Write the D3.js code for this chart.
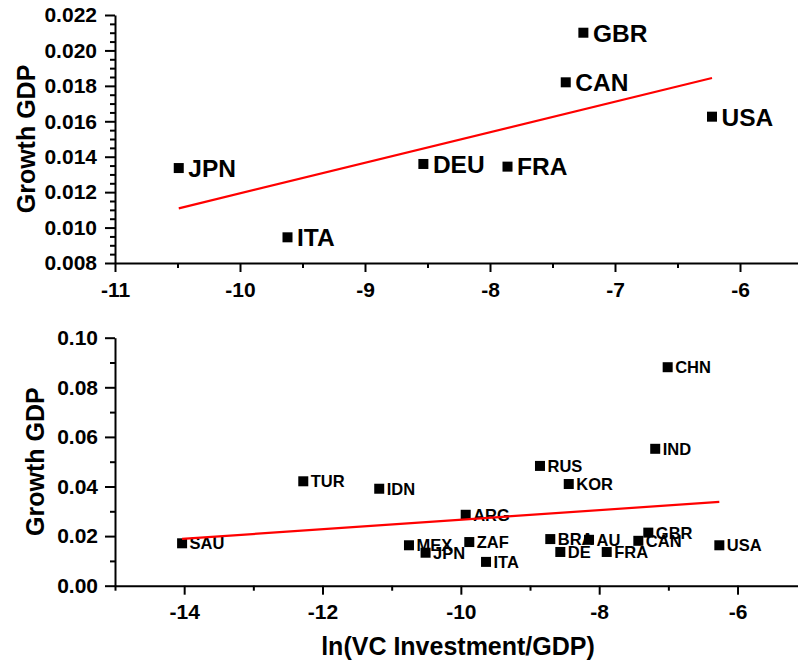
<!DOCTYPE html>
<html>
<head>
<meta charset="utf-8">
<script src="https://cdn.jsdelivr.net/npm/d3@7"></script>
<style>
  html, body { margin: 0; padding: 0; background: #fff; }
  svg { display: block; }
  text { font-family: "Liberation Sans", Arial, sans-serif; font-weight: bold; fill: #000; }
</style>
</head>
<body>
<svg id="chart" width="798" height="665"></svg>
<script>
// G7 economies: ln(VC investment / GDP) vs GDP growth
const g7Countries = ["JPN", "ITA", "DEU", "FRA", "CAN", "GBR", "USA"];
const g7LnVC      = [-10.49, -9.62, -8.533, -7.86, -7.394, -7.253, -6.224];
const g7Growth    = [0.01336, 0.00945, 0.01359, 0.01344, 0.0182, 0.0210, 0.01626];

// G20 economies (labels as printed)
const g20Countries = ["SAU", "TUR", "IDN", "MEX", "JPN", "ARG", "ZAF", "ITA", "RUS", "BRA",
                      "AU", "DE", "KOR", "FRA", "CAN", "GBR", "IND", "CHN", "USA"];
const g20LnVC      = [-14.03, -12.278, -11.18, -10.75, -10.51, -9.93, -9.878, -9.636, -8.856, -8.707,
                      -8.147, -8.562, -8.44, -7.891, -7.434, -7.29, -7.19, -7.01, -6.263];
const g20Growth    = [0.0171, 0.0421, 0.0391, 0.0163, 0.0133, 0.0286, 0.0176, 0.0096, 0.0483, 0.0188,
                      0.0185, 0.0136, 0.0410, 0.0136, 0.0181, 0.0214, 0.0552, 0.0881, 0.0163];

// Axis ticks
const topXTicks = [-11, -10, -9, -8, -7, -6];
const topYTicks = [0.008, 0.010, 0.012, 0.014, 0.016, 0.018, 0.020, 0.022];
const botXTicks = [-14, -12, -10, -8, -6];
const botYTicks = [0.00, 0.02, 0.04, 0.06, 0.08, 0.10];

const svg = d3.select("#chart");
const fmtX = d => (d < 0 ? "-" : "") + Math.abs(d);

// Ordinary least squares fit
function ols(xs, ys) {
  const n = xs.length;
  const mx = d3.mean(xs), my = d3.mean(ys);
  let sxy = 0, sxx = 0;
  for (let i = 0; i < n; i++) { sxy += (xs[i] - mx) * (ys[i] - my); sxx += (xs[i] - mx) ** 2; }
  const b = sxy / sxx;
  return { slope: b, intercept: my - b * mx };
}

function panel(cfg) {
  const g = svg.append("g");
  const x = d3.scaleLinear().domain(cfg.xDomain).range(cfg.xRange);
  const y = d3.scaleLinear().domain(cfg.yDomain).range(cfg.yRange);
  const y0 = cfg.yRange[0];
  const x0 = cfg.xRange[0];

  // minor ticks
  g.append("g").attr("transform", `translate(0,${y0})`)
    .call(d3.axisBottom(x).tickValues(cfg.xMinor).tickSize(5).tickFormat(""))
    .call(a => a.select(".domain").remove());
  g.append("g").attr("transform", `translate(${x0},0)`)
    .call(d3.axisLeft(y).tickValues(cfg.yMinor).tickSize(5).tickFormat(""))
    .call(a => a.select(".domain").remove());

  // major ticks + domain lines
  const xa = g.append("g").attr("transform", `translate(0,${y0})`)
    .call(d3.axisBottom(x).tickValues(cfg.xTicks).tickSize(9).tickSizeOuter(0)
      .tickPadding(cfg.xPad).tickFormat(fmtX));
  const ya = g.append("g").attr("transform", `translate(${x0},0)`)
    .call(d3.axisLeft(y).tickValues(cfg.yTicks).tickSize(10).tickSizeOuter(0)
      .tickPadding(cfg.yPad).tickFormat(d3.format(cfg.yFmt)));
  [xa, ya].forEach(a => {
    a.selectAll("text").attr("font-size", 21).attr("font-family", null);
    a.attr("font-family", null).attr("font-size", null);
  });
  g.selectAll(".domain, .tick line").attr("stroke", "#000").attr("stroke-width", 2);

  // y title
  g.append("text")
    .attr("transform", `translate(${cfg.yTitleX},${(cfg.yRange[0] + cfg.yRange[1]) / 2}) rotate(-90)`)
    .attr("text-anchor", "middle")
    .attr("font-size", 25)
    .text("Growth GDP");

  // points with labels, drawn in sequence
  const pts = cfg.names.map((n, i) => ({ name: n, vx: cfg.xs[i], vy: cfg.ys[i] }));
  const s = 10;
  const pg = g.selectAll("g.pt").data(pts).join("g").attr("class", "pt");
  pg.append("rect")
    .attr("x", d => x(d.vx) - s / 2).attr("y", d => y(d.vy) - s / 2)
    .attr("width", s).attr("height", s).attr("fill", "#000");
  pg.append("text")
    .attr("x", d => x(d.vx) + cfg.labelDx)
    .attr("y", d => y(d.vy) + cfg.labelSize * 0.36)
    .attr("font-size", cfg.labelSize)
    .text(d => d.name);

  // fitted line across the data range
  const fit = ols(cfg.xs, cfg.ys);
  const ex = d3.extent(cfg.xs);
  g.append("line")
    .attr("x1", x(ex[0])).attr("y1", y(fit.intercept + fit.slope * ex[0]))
    .attr("x2", x(ex[1])).attr("y2", y(fit.intercept + fit.slope * ex[1]))
    .attr("stroke", "#ff0000").attr("stroke-width", 2.2);

  return { x, y };
}

panel({
  names: g7Countries, xs: g7LnVC, ys: g7Growth,
  xDomain: [-11, -5.5], xRange: [115, 802.5],
  yDomain: [0.008, 0.022], yRange: [263, 15],
  xTicks: topXTicks, yTicks: topYTicks,
  xMinor: d3.range(-10.5, -5.4, 1),
  yMinor: d3.range(0.0085, 0.022, 0.0005).filter(v => Math.abs(Math.round(v / 0.002) * 0.002 - v) > 1e-6),
  xPad: 10, yPad: 8, yFmt: ".3f",
  yTitleX: 35, labelDx: 9.5, labelSize: 24.5
});

panel({
  names: g20Countries, xs: g20LnVC, ys: g20Growth,
  xDomain: [-15, -5], xRange: [115, 806.7],
  yDomain: [0, 0.10], yRange: [585.7, 337.7],
  xTicks: botXTicks, yTicks: botYTicks,
  xMinor: [-15, -13, -11, -9, -7, -5],
  yMinor: [0.01, 0.03, 0.05, 0.07, 0.09],
  xPad: 9, yPad: 7, yFmt: ".2f",
  yTitleX: 44, labelDx: 7.5, labelSize: 16.5
});

// shared x title
svg.append("text")
  .attr("x", 458).attr("y", 655)
  .attr("text-anchor", "middle")
  .attr("font-size", 25)
  .text("ln(VC Investment/GDP)");
</script>
</body>
</html>
